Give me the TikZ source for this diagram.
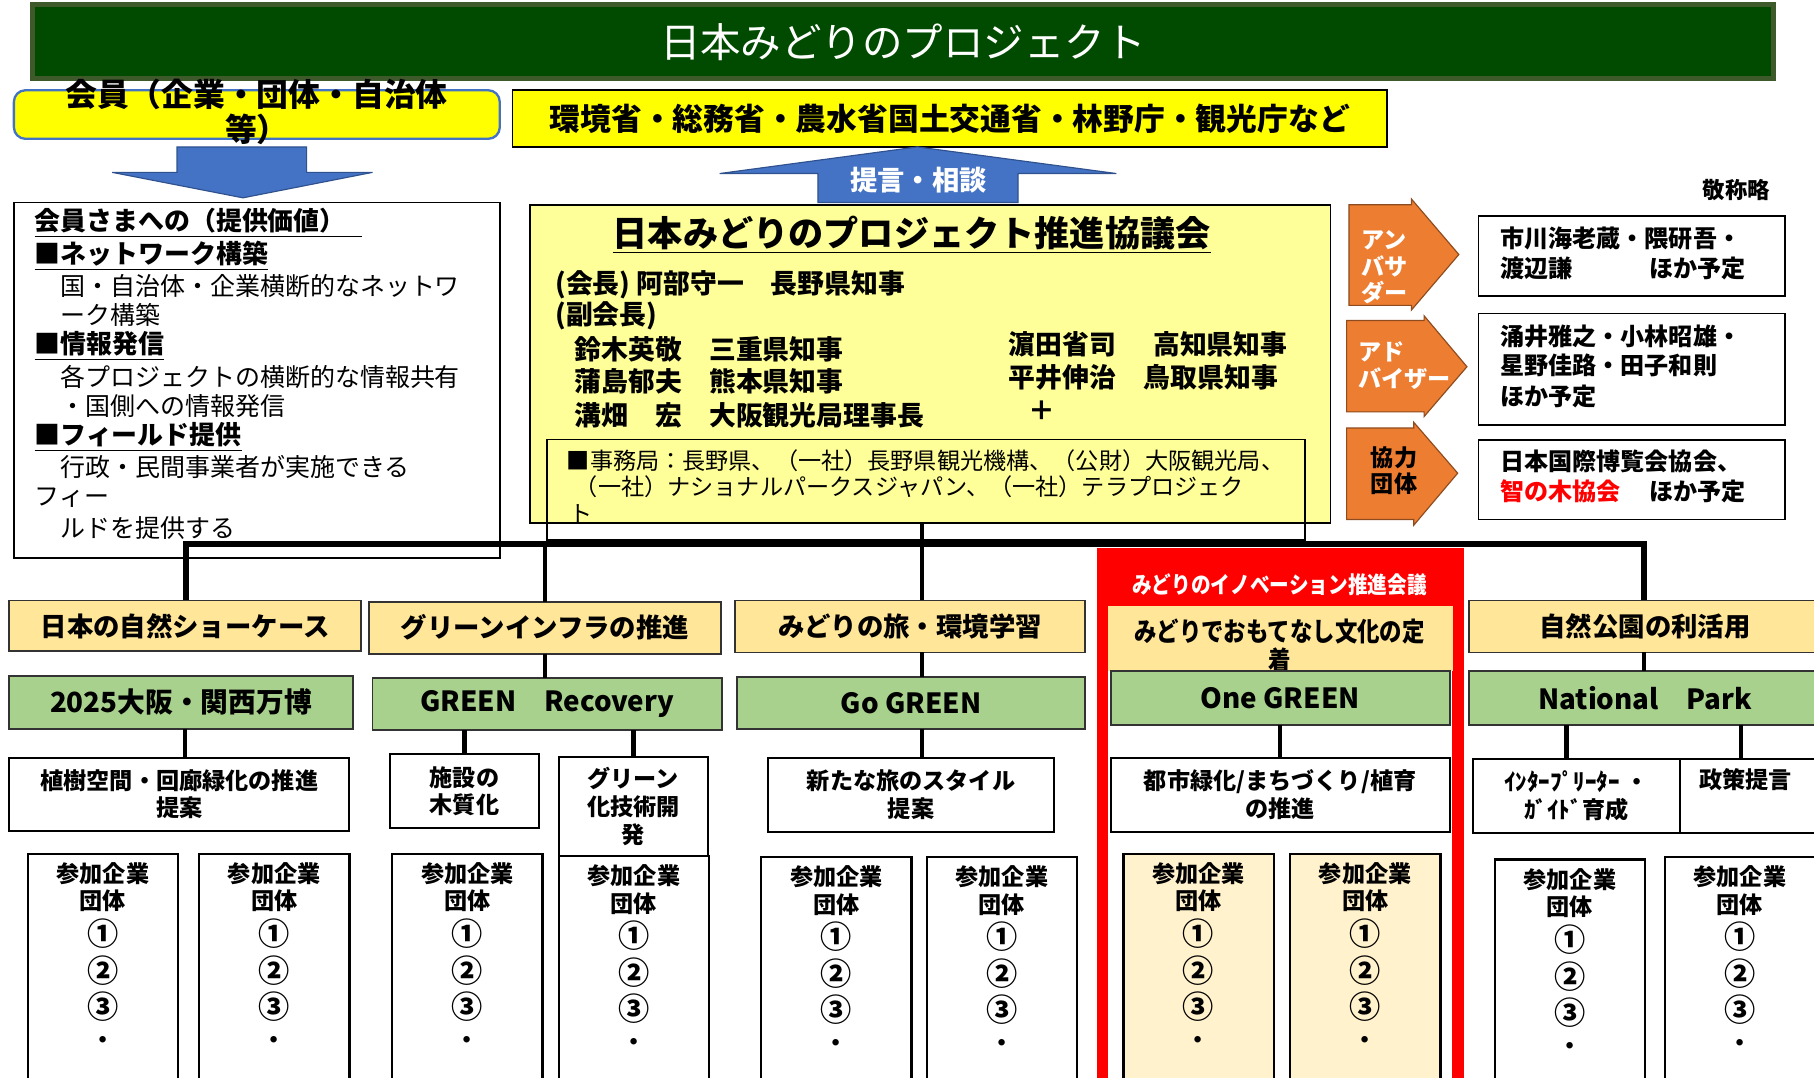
\documentclass[tikz,border=0pt]{standalone}
\usepackage{fontspec}
\setmainfont{Noto Sans CJK JP}
\newfontfamily\cond{Noto Sans CJK JP}[FakeStretch=0.85]
\usetikzlibrary{calc}
\definecolor{tgreen}{HTML}{004B00}
\definecolor{tborder}{HTML}{3E5A2A}
\definecolor{yel}{HTML}{FFFF00}
\definecolor{ablue}{HTML}{4472C4}
\definecolor{ablueedge}{HTML}{2F528F}
\definecolor{lyel}{HTML}{FFFF99}
\definecolor{orng}{HTML}{ED7D31}
\definecolor{catyel}{HTML}{FFE699}
\definecolor{grn}{HTML}{A9D18E}
\definecolor{pyel}{HTML}{FFF2CC}
\newcommand\fsz[1]{\fontsize{#1}{#1}\selectfont}
\newcommand\bx[7]{\node[#6, anchor=north west, align=center, minimum width={(#4-#2)*0.5pt}, minimum height={(#5-#3)*0.5pt}] (#1) at (#2,#3) {#7};}
\newcommand\sanka[4]{%
 \node[bxl,line width=1pt,fill=#4,anchor=north west,minimum width=65pt,minimum height=110pt] (#1) at (#2,#3) {};
 \node[ptx] (#1-a) at ($(#1.north)+(0,17)$) {参加企業};
 \node[ptx] (#1-b) at ($(#1.north)+(0,41)$) {団体};
 \node[pnum] (#1-c) at ($(#1.north)+(0,69)$) {①};
 \node[pnum] (#1-d) at ($(#1.north)+(0,101)$) {②};
 \node[pnum] (#1-e) at ($(#1.north)+(0,132)$) {③};
 \node[ptx] (#1-f) at ($(#1.north)+(0,163)$) {・};
}
\begin{document}
\begin{tikzpicture}[x=0.5pt,y=-0.5pt,
  every node/.style={inner sep=0pt,outer sep=0pt},
  bxl/.style={draw=black,line width=0.8pt},
  catbox/.style={draw=black!80,line width=0.8pt,fill=catyel,font=\bfseries\fsz{11.4}},
  grnbox/.style={draw=black!80,line width=0.8pt,fill=grn,font=\bfseries\fsz{12}},
  subbox/.style={bxl,fill=white,font=\bfseries\fontsize{10}{12}\selectfont},
  ptx/.style={font=\bfseries\fsz{10}},
  pnum/.style={font=\bfseries\fsz{13.5}},
  memh/.style={anchor=west,font=\bfseries\fsz{11.2}},
  memb/.style={anchor=west,font=\fsz{10.8}},
  cmem/.style={anchor=west,font=\bfseries\fsz{11.6}},
  secx/.style={anchor=west,font=\fsz{10}},
  rtx/.style={anchor=west,font=\bfseries\fsz{10.4}},
  arrtx/.style={anchor=west,font=\bfseries\fontsize{10}{11.5}\selectfont,align=left},
  orarrow/.style={fill=orng,draw=orng!60!black,line width=0.5pt},
  busline/.style={line width=2.5pt},
  dropl/.style={line width=2pt}]
\useasboundingbox (0,0) rectangle (1568,931);
\clip (0,0) rectangle (1568,931);
% title
\bx{title}{28}{4}{1533}{68}{draw=tborder,line width=2pt,fill=tgreen,text=white,font=\fsz{17.5}}{日本みどりのプロジェクト}
% members yellow box
\bx{kaiin}{12}{78}{432}{120}{draw=ablue,line width=1pt,fill=yel,rounded corners=5pt}{}
\node[font=\bfseries\fontsize{13.75}{15}\selectfont,align=center] (kaiintext) at (222,97) {会員（企業・団体・自治体\\等）};
\draw[fill=ablue,draw=ablueedge,line width=0.5pt] (153,127) -- (265,127) -- (265,149) -- (322,149) -- (210,171) -- (97,149) -- (153,149) -- cycle;
% government box
\bx{gov}{443}{78}{1199}{127}{bxl,fill=yel,font=\bfseries\fsz{13.3}}{環境省・総務省・農水省国土交通省・林野庁・観光庁など}
\draw[fill=ablue,draw=ablueedge,line width=0.5pt] (622,150) -- (793,127) -- (965,150) -- (880,150) -- (880,175) -- (707,175) -- (707,150) -- cycle;
\node[text=white,font=\bfseries\fsz{11.8}] (teigen) at (794,156) {提言・相談};
% members value box
\bx{members}{12}{175}{432}{482}{bxl,fill=white}{}
\node[memh] (m1) at (30,193) {\underline{会員さまへの（提供価値）\hspace{7pt}}};
\node[memh] (m2) at (30,221) {\underline{■ネットワーク構築}};
\node[memb] (m3) at (52,247) {国・自治体・企業横断的なネットワ};
\node[memb] (m4) at (52,272) {ーク構築};
\node[memh] (m5) at (30,299) {\underline{■情報発信}};
\node[memb] (m6) at (52,326) {各プロジェクトの横断的な情報共有};
\node[memb] (m7) at (52,351) {・国側への情報発信};
\node[memh] (m8) at (30,378) {\underline{■フィールド提供}};
\node[memb] (m9) at (52,404) {行政・民間事業者が実施できる};
\node[memb] (m10) at (30,430) {フィー};
\node[memb] (m11) at (52,456) {ルドを提供する};
% council
\bx{council}{458}{177}{1150}{452}{bxl,fill=lyel}{}
\bx{office}{473}{380}{1128}{467}{draw=black,line width=0.7pt}{}
\node[font=\bfseries\fsz{15.2}] (ctitle) at (788,203) {\underline{日本みどりのプロジェクト推進協議会}};
\node[cmem] (c1) at (480,246) {(会長) 阿部守一　長野県知事};
\node[cmem] (c2) at (480,273) {(副会長)};
\node[cmem] (c3) at (497,302) {鈴木英敬　三重県知事};
\node[cmem] (c4) at (497,330) {蒲島郁夫　熊本県知事};
\node[cmem] (c5) at (497,359) {溝畑　宏　大阪観光局理事長};
\node[cmem] (c6) at (872,298) {濵田省司\hspace{16pt}高知県知事};
\node[cmem] (c7) at (872,326) {平井伸治\hspace{12pt}鳥取県知事};
\node[cmem] (c8) at (889,355) {＋};
\node[secx] (o1) at (490,398) {■事務局：長野県、（一社）長野県観光機構、（公財）大阪観光局、};
\node[secx] (o2) at (497,421) {（一社）ナショナルパークスジャパン、（一社）テラプロジェク};
\node[secx] (o3) at (492,444) {ト};
% orange arrows
\draw[orarrow] (1166,177) -- (1220,177) -- (1220,172) -- (1261,220) -- (1220,268) -- (1220,264) -- (1166,264) -- cycle;
\node[arrtx,text=white] (amb) at (1177,231) {アン\\バサ\\ダー};
\draw[orarrow] (1164,277) -- (1231,277) -- (1231,273) -- (1268,317) -- (1231,360) -- (1231,356) -- (1164,356) -- cycle;
\node[arrtx,text=white] (adv) at (1174,316) {アド\\バイザー};
\draw[orarrow] (1164,370) -- (1222,370) -- (1222,365) -- (1260,409) -- (1222,454) -- (1222,449) -- (1164,449) -- cycle;
\node[arrtx] (coop) at (1185,407) {協力\\団体};
% right boxes
\node[font=\bfseries\fsz{9.7}] (keisho) at (1501,164) {敬称略};
\bx{r1}{1278}{187}{1543}{256}{bxl,fill=white}{}
\node[rtx] (r1a) at (1297,206) {市川海老蔵・隈研吾・};
\node[rtx] (r1b) at (1297,232) {渡辺謙};
\node[rtx] (r1c) at (1426,232) {ほか予定};
\bx{r2}{1278}{271}{1543}{367}{bxl,fill=white}{}
\node[rtx] (r2a) at (1297,291) {涌井雅之・小林昭雄・};
\node[rtx] (r2b) at (1297,316) {星野佳路・田子和則};
\node[rtx] (r2c) at (1297,343) {ほか予定};
\bx{r3}{1278}{380}{1543}{449}{bxl,fill=white}{}
\node[rtx] (r3a) at (1297,399) {日本国際博覧会協会、};
\node[rtx,text=red] (r3b) at (1297,425) {智の木協会};
\node[rtx] (r3c) at (1426,425) {ほか予定};
% red innovation frame
\fill[red] (948,474) rectangle (1265,524);
\draw[red,line width=5pt] (953,479) rectangle (1260.5,960);
\node[text=white,font=\cond\bfseries\fsz{10}] (innov) at (1106,505) {みどりのイノベーション推進会議};
% categories
\bx{cat1}{8}{519}{312}{563}{catbox}{日本の自然ショーケース}
\bx{cat2}{319}{520}{623}{565}{catbox}{グリーンインフラの推進}
\bx{cat3}{635}{519}{938}{564}{catbox}{みどりの旅・環境学習}
\bx{cat4}{958}{524}{1256}{580}{fill=catyel}{}
\node[font=\cond\bfseries\fontsize{11.4}{12.5}\selectfont,align=center] (cat4t) at (1106,558) {みどりでおもてなし文化の定\\着};
\bx{cat5}{1270}{519}{1574}{564}{catbox}{自然公園の利活用}
% green
\bx{g1}{8}{584}{305}{630}{grnbox}{2025大阪・関西万博}
\bx{g2}{322}{586}{624}{631}{grnbox}{GREEN　Recovery}
\bx{g3}{637}{585}{938}{630}{grnbox}{Go GREEN}
\bx{g4}{960}{580}{1253}{627}{grnbox}{One GREEN}
\bx{g5}{1270}{580}{1574}{627}{grnbox}{National　Park}
% sub
\bx{s1}{8}{655}{302}{718}{subbox}{植樹空間・回廊緑化の推進\\提案}
\bx{s2a}{337}{652}{466}{716}{subbox}{施設の\\木質化}
\bx{s2b}{483}{654}{612}{740}{subbox}{グリーン\\化技術開\\発}
\bx{s3}{664}{655}{911}{719}{subbox}{新たな旅のスタイル\\提案}
\bx{s4}{960}{655}{1253}{719}{subbox}{都市緑化/まちづくり/植育\\の推進}
\bx{s5a}{1273}{656}{1452}{720}{subbox}{ｲﾝﾀｰﾌﾟﾘｰﾀｰ ・\\ｶﾞｲﾄﾞ育成}
\bx{s5b}{1452}{656}{1574}{720}{subbox}{}
\node[ptx] (s5bt) at (1509,674) {政策提言};
% participant boxes
\sanka{pA1}{24}{738}{white}
\sanka{pA2}{172}{738}{white}
\sanka{pB1}{339}{738}{white}
\sanka{pB2}{483}{740}{white}
\sanka{pC1}{658}{741}{white}
\sanka{pC2}{801}{741}{white}
\sanka{pD1}{971}{738}{pyel}
\sanka{pD2}{1115}{738}{pyel}
\sanka{pE1}{1292}{743}{white}
\sanka{pE2}{1439}{741}{white}
% connectors
\coordinate (busL) at (161,470);
\coordinate (busR) at (1421,470);
\coordinate (x797) at (797,0);
\coordinate (x1354) at (1354,0);
\coordinate (x1505) at (1505,0);
\coordinate (x160) at (160,0);
\draw[busline] (cat1.north -| busL) -- (busL) -- (busR) -- (cat5.north -| busR);
\draw[dropl] (cat2.north) -- (cat2.north |- busL);
\draw[dropl] (council.south -| x797) -- (cat3.north -| x797);
\draw[dropl] (cat2.south) -- (cat2.south |- g2.north);
\draw[dropl] (cat3.south -| x797) -- (g3.north -| x797);
\draw[dropl] (cat5.south -| busR) -- (g5.north -| busR);
\draw[dropl] (g1.south -| x160) -- (s1.north -| x160);
\draw[dropl] (s2a.north) -- (s2a.north |- g2.south);
\draw[dropl] (s2b.north) -- (s2b.north |- g2.south);
\draw[dropl] (g3.south -| x797) -- (s3.north -| x797);
\draw[dropl] (g4.south) -- (g4.south |- s4.north);
\draw[dropl] (g5.south -| x1354) -- (s5a.north -| x1354);
\draw[dropl] (g5.south -| x1505) -- (s5b.north -| x1505);
\end{tikzpicture}
\end{document}
